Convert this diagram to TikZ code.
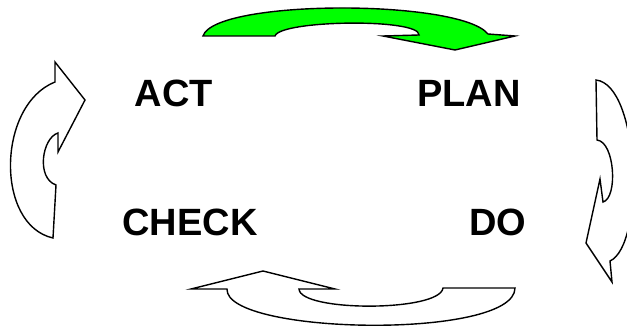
\documentclass[tikz,border=0pt]{standalone}
\usepackage{fontspec}
\setmainfont{Liberation Sans}
\definecolor{leaf}{HTML}{00FF00}
\usepackage{tikz}
\newcommand{\stage}[3]{\node[stagetext] (#1) at (#2) {#3};}

\begin{document}
\begin{tikzpicture}[x=1pt,y=-1pt,line join=miter,
  stagetext/.style={inner sep=0pt,font=\bfseries\fontsize{38}{38}\selectfont},
  cyclearrow/.style={draw=black,line width=1.4pt}]
  \useasboundingbox (0,0) rectangle (627,331);
  \clip (0,0) rectangle (627,331);
  % top arrow, act -> plan
  \filldraw[cyclearrow,fill=leaf] (203,36) .. controls (215,-1) and (460,-1) .. (488,34)
    -- (515,36) -- (455,50) -- (383,36) -- (419,35)
    .. controls (420,18) and (280,20) .. (275,36) -- cycle;
  % right arrow, plan -> do
  \draw[cyclearrow] (596,80) .. controls (640,85) and (645,245) .. (610,261)
    -- (612,282) -- (586,243) -- (600,179) -- (603,202)
    .. controls (618,198) and (615,142) .. (597,140) -- cycle;
  % bottom arrow, do -> check
  \draw[cyclearrow] (191,289) -- (263,271) -- (335,289) -- (299,289)
    .. controls (300,312) and (440,312) .. (443,288) -- (515,288)
    .. controls (515,340) and (225,335) .. (227,289) -- cycle;
  % left arrow, check -> act
  \draw[cyclearrow] (55,62) -- (85,100) -- (58,152) -- (58,133)
    .. controls (42,138) and (36,178) .. (56,185) -- (53,238)
    .. controls (-5,225) and (-3,105) .. (55,82) -- cycle;
  \stage{act}{174,93}{ACT}
  \stage{plan}{469,93}{PLAN}
  \stage{check}{190,222}{CHECK}
  \stage{do}{498,222}{DO}
\end{tikzpicture}
\end{document}
